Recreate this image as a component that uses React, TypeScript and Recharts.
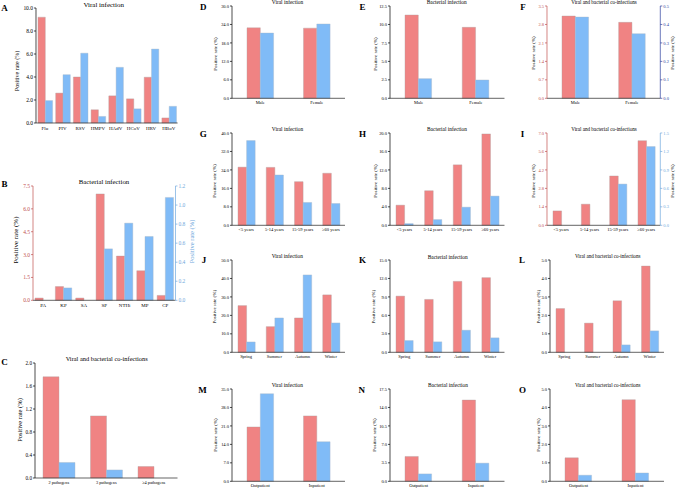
import React from 'react';
import { BarChart, Bar, XAxis, YAxis } from 'recharts';

const FONT = '"Liberation Serif", "Times New Roman", serif';
const RED = '#F08383';
const BLUE = '#80BBF7';
const AXIS_RED = '#C0504D';
const AXIS_LIGHTBLUE = '#6FA8DC';
const AXIS_DARKBLUE = '#2B3F9E';

// A - viral pathogens
const viruses = ['Flu', 'PIV', 'RSV', 'HMPV', 'HAdV', 'HCoV', 'HRV', 'HBoV'];
const virusRed = [9.2, 2.6, 4.0, 1.15, 2.36, 2.1, 3.98, 0.44];
const virusBlue = [1.95, 4.2, 6.07, 0.57, 4.84, 1.23, 6.43, 1.45];
const virusTicks = [0, 2, 4, 6, 8, 10];

// B - bacterial pathogens (blue on right axis)
const bacteria = ['PA', 'KP', 'SA', 'SP', 'NTHi', 'MP', 'CP'];
const bacteriaRed = [0.15, 0.9, 0.15, 6.98, 2.9, 1.94, 0.32];
const bacteriaBlue = [0, 0.13, 0, 0.54, 0.81, 0.67, 1.08];
const bacteriaTicks = [0, 1.5, 3, 4.5, 6, 7.5];
const bacteriaRightTicks = [0, 0.2, 0.4, 0.6, 0.8, 1.0, 1.2];

// C - co-infections
const coTypes = ['2 pathogens', '3 pathogens', '\u22654 pathogens'];
const coTypeRed = [1.76, 1.08, 0.2];
const coTypeBlue = [0.27, 0.14, 0];
const coTypeTicks = [0, 0.4, 0.8, 1.2, 1.6, 2.0];

const sexes = ['Male', 'Female'];
const ages = ['<5 years', '5-14 years', '15-59 years', '\u226560 years'];
const seasons = ['Spring', 'Summer', 'Autumn', 'Winter'];
const settings = ['Outpatient', 'Inpatient'];

// D E F - by sex
const viralSexRed = [22.9, 22.8];
const viralSexBlue = [21.2, 24.15];
const viralSexTicks = [0, 6, 12, 18, 24, 30];
const bactSexRed = [11.28, 9.61];
const bactSexBlue = [2.66, 2.48];
const bactSexTicks = [0, 2.5, 5, 7.5, 10, 12.5];
const coSexRed = [3.12, 2.88];
const coSexBlue = [0.44, 0.35];
const coSexTicks = [0, 0.7, 1.4, 2.1, 2.8, 3.5];
const coSexRightTicks = [0, 0.1, 0.2, 0.3, 0.4, 0.5];

// G H I - by age
const viralAgeRed = [25.2, 25.1, 18.9, 22.55];
const viralAgeBlue = [36.7, 21.8, 9.9, 9.45];
const viralAgeTicks = [0, 8, 16, 24, 32, 40];
const bactAgeRed = [4.36, 7.49, 13.1, 19.8];
const bactAgeBlue = [0.36, 1.24, 3.93, 6.33];
const bactAgeTicks = [0, 4, 8, 12, 16, 20];
const coAgeRed = [1.09, 1.6, 3.74, 6.42];
const coAgeBlue = [0, 0, 0.67, 1.28];
const coAgeTicks = [0, 1.4, 2.8, 4.2, 5.6, 7.0];
const coAgeRightTicks = [0, 0.3, 0.6, 0.9, 1.2, 1.5];

// J K L - by season
const viralSeasonRed = [25.3, 13.9, 18.6, 31.1];
const viralSeasonBlue = [5.6, 18.6, 41.9, 15.9];
const viralSeasonTicks = [0, 10, 20, 30, 40, 50];
const bactSeasonRed = [9.13, 8.59, 11.53, 12.13];
const bactSeasonBlue = [1.91, 1.7, 3.59, 2.35];
const bactSeasonTicks = [0, 3, 6, 9, 12, 15];
const coSeasonRed = [2.37, 1.58, 2.79, 4.67];
const coSeasonBlue = [0, 0, 0.4, 1.16];
const coSeasonTicks = [0, 1, 2, 3, 4, 5];

// M N O - by setting
const viralSettingRed = [20.6, 24.8];
const viralSettingBlue = [33.2, 15.0];
const viralSettingTicks = [0, 7, 14, 21, 28, 35];
const bactSettingRed = [4.71, 15.4];
const bactSettingBlue = [1.4, 3.44];
const bactSettingTicks = [0, 3.5, 7, 10.5, 14, 17.5];
const coSettingRed = [1.27, 4.42];
const coSettingBlue = [0.33, 0.45];
const coSettingTicks = [0, 1, 2, 3, 4, 5];

type Rect = { x: number; y: number; w: number; h: number };

interface PanelProps {
  categories: string[];
  red: number[];
  blue: number[];
  rect: Rect;
  ticks: number[];
  rightTicks?: number[];
  leftColor?: string;
  rightColor?: string;
  barSize: number;
  tickFont: number;
  catFont: number;
}

function Panel({ categories, red, blue, rect, ticks, rightTicks, leftColor = '#000', rightColor = '#000', barSize, tickFont, catFont }: PanelProps) {
  const data = categories.map((name, i) => ({ name, red: red[i], blue: blue[i] }));
  const hasRight = !!rightTicks;
  const fmt = (v: number) => v.toFixed(1);
  return (
    <div style={{ position: 'absolute', left: rect.x - 40, top: rect.y - 20 }}>
      <BarChart
        width={rect.w + 80}
        height={rect.h + 40}
        data={data}
        barGap={0}
        margin={{ top: 20, right: hasRight ? 10 : 40, bottom: 0, left: 10 }}
      >
        <XAxis
          dataKey="name"
          height={20}
          interval={0}
          tickLine={false}
          tickSize={2}
          tickMargin={1}
          axisLine={{ stroke: '#222', strokeWidth: 0.7 }}
          tick={{ fontSize: catFont, fill: '#000', fontFamily: FONT }}
        />
        <YAxis
          yAxisId="left"
          width={30}
          domain={[ticks[0], ticks[ticks.length - 1]]}
          ticks={ticks}
          interval={0}
          tickFormatter={fmt}
          tickSize={2}
          tickMargin={1}
          axisLine={{ stroke: leftColor, strokeWidth: 0.7 }}
          tickLine={{ stroke: leftColor, strokeWidth: 0.7 }}
          tick={{ fontSize: tickFont, fill: leftColor, fontFamily: FONT }}
        />
        {hasRight && (
          <YAxis
            yAxisId="right"
            orientation="right"
            width={30}
            domain={[rightTicks![0], rightTicks![rightTicks!.length - 1]]}
            ticks={rightTicks}
            interval={0}
            tickFormatter={fmt}
            tickSize={2}
            tickMargin={1}
            axisLine={{ stroke: rightColor, strokeWidth: 0.7 }}
            tickLine={{ stroke: rightColor, strokeWidth: 0.7 }}
            tick={{ fontSize: tickFont, fill: rightColor, fontFamily: FONT }}
          />
        )}
        <Bar yAxisId="left" dataKey="red" fill={RED} stroke="#B0A0A0" strokeWidth={0.4} barSize={barSize} isAnimationActive={false} />
        <Bar yAxisId={hasRight ? 'right' : 'left'} dataKey="blue" fill={BLUE} stroke="#A8B8C8" strokeWidth={0.4} barSize={barSize} isAnimationActive={false} />
      </BarChart>
    </div>
  );
}

const ROWS = [6, 133.3, 260, 389.3];
const H = 92.3;
const COL2 = { x: 231.5, w: 113 };
const COL3 = { x: 390, w: 114.5 };
const COL4 = { x: 546.7, w: 113.3 };
const COL4B = { x: 550, w: 114 };

const small = { tickFont: 4.5, catFont: 4.5 };

const letters: [string, number, number][] = [
  ['A', 4.5, 7.5], ['B', 4.5, 184], ['C', 4.5, 361.5],
  ['D', 203.3, 6.5], ['E', 362.5, 6.5], ['F', 523, 6.5],
  ['G', 203.3, 134], ['H', 362.5, 134], ['I', 522.5, 134],
  ['J', 204, 260], ['K', 362.5, 260], ['L', 522, 260],
  ['M', 202.5, 389.5], ['N', 361.7, 389.5], ['O', 522.5, 389.5],
];

const titles: [string, number, number, number][] = [
  ['Viral infection', 103.7, 4.5, 7],
  ['Bacterial infection', 104, 181, 6.8],
  ['Viral and bacterial co-infections', 106.7, 358.5, 6.4],
  ['Viral infection', 287.5, 1.8, 5.4],
  ['Bacterial infection', 446.7, 1.8, 5.4],
  ['Viral and bacterial co-infections', 604, 1.8, 5.1],
  ['Viral infection', 287.5, 129, 5.4],
  ['Bacterial infection', 447, 129, 5.4],
  ['Viral and bacterial co-infections', 604, 128.5, 5.1],
  ['Viral infection', 287.3, 256.3, 5.4],
  ['Bacterial infection', 447.7, 257, 5.4],
  ['Viral and bacterial co-infections', 607.7, 256.3, 5.1],
  ['Viral infection', 287.3, 385, 5.4],
  ['Bacterial infection', 448, 385, 5.4],
  ['Viral and bacterial co-infections', 607.7, 385, 5.1],
];

const yLabels: [number, number, number, string][] = [
  [17.3, 71, 6, '#000'], [16.3, 240, 7, '#000'], [191, 241.5, 6.5, AXIS_LIGHTBLUE], [19.3, 420, 6.5, '#000'],
  [215, 54, 5, '#000'], [375, 54, 5, '#000'], [533.3, 53, 5, '#000'], [672.5, 53, 5, '#000'],
  [214.7, 181, 5, '#000'], [375, 181, 5, '#000'], [533, 181, 5, '#000'], [672.5, 181, 5, '#000'],
  [215, 306.7, 5, '#000'], [374, 306.7, 5, '#000'], [538.3, 306.7, 5, '#000'],
  [215, 435, 5, '#000'], [374, 435, 5, '#000'], [538.3, 435, 5, '#000'],
];

export default function App() {
  return (
    <div style={{ position: 'absolute', left: 0, top: 0, width: 676, height: 489, background: '#fff', overflow: 'hidden' }}>
      <Panel categories={viruses} red={virusRed} blue={virusBlue} rect={{ x: 35.5, y: 8.3, w: 141.6, h: 115 }} ticks={virusTicks} barSize={7.3} tickFont={5.5} catFont={5} />
      <Panel categories={bacteria} red={bacteriaRed} blue={bacteriaBlue} rect={{ x: 32.8, y: 186, w: 142.5, h: 114.3 }} ticks={bacteriaTicks} rightTicks={bacteriaRightTicks} leftColor={AXIS_RED} rightColor={AXIS_LIGHTBLUE} barSize={8.2} tickFont={5.5} catFont={5} />
      <Panel categories={coTypes} red={coTypeRed} blue={coTypeBlue} rect={{ x: 35, y: 363.3, w: 142.5, h: 115 }} ticks={coTypeTicks} barSize={16} tickFont={5.2} catFont={4.3} />

      <Panel categories={sexes} red={viralSexRed} blue={viralSexBlue} rect={{ ...COL2, y: ROWS[0], h: H }} ticks={viralSexTicks} barSize={13.3} {...small} />
      <Panel categories={sexes} red={bactSexRed} blue={bactSexBlue} rect={{ ...COL3, y: ROWS[0], h: H }} ticks={bactSexTicks} barSize={13.3} {...small} />
      <Panel categories={sexes} red={coSexRed} blue={coSexBlue} rect={{ ...COL4, y: ROWS[0], h: H }} ticks={coSexTicks} rightTicks={coSexRightTicks} leftColor={AXIS_RED} rightColor={AXIS_DARKBLUE} barSize={13.3} {...small} />

      <Panel categories={ages} red={viralAgeRed} blue={viralAgeBlue} rect={{ ...COL2, y: ROWS[1], h: H }} ticks={viralAgeTicks} barSize={8.6} {...small} />
      <Panel categories={ages} red={bactAgeRed} blue={bactAgeBlue} rect={{ ...COL3, y: ROWS[1], h: H }} ticks={bactAgeTicks} barSize={8.6} {...small} />
      <Panel categories={ages} red={coAgeRed} blue={coAgeBlue} rect={{ ...COL4, y: ROWS[1], h: H }} ticks={coAgeTicks} rightTicks={coAgeRightTicks} leftColor={AXIS_RED} rightColor={AXIS_LIGHTBLUE} barSize={8.6} {...small} />

      <Panel categories={seasons} red={viralSeasonRed} blue={viralSeasonBlue} rect={{ ...COL2, y: ROWS[2], h: H }} ticks={viralSeasonTicks} barSize={8.6} {...small} />
      <Panel categories={seasons} red={bactSeasonRed} blue={bactSeasonBlue} rect={{ ...COL3, y: ROWS[2], h: H }} ticks={bactSeasonTicks} barSize={8.6} {...small} />
      <Panel categories={seasons} red={coSeasonRed} blue={coSeasonBlue} rect={{ ...COL4B, y: ROWS[2], h: H }} ticks={coSeasonTicks} barSize={8.6} {...small} />

      <Panel categories={settings} red={viralSettingRed} blue={viralSettingBlue} rect={{ ...COL2, y: ROWS[3], h: H }} ticks={viralSettingTicks} barSize={13.3} {...small} />
      <Panel categories={settings} red={bactSettingRed} blue={bactSettingBlue} rect={{ ...COL3, y: ROWS[3], h: H }} ticks={bactSettingTicks} barSize={13.3} {...small} />
      <Panel categories={settings} red={coSettingRed} blue={coSettingBlue} rect={{ ...COL4B, y: ROWS[3], h: H }} ticks={coSettingTicks} barSize={13.3} {...small} />

      <svg width={676} height={489} style={{ position: 'absolute', left: 0, top: 0, pointerEvents: 'none' }} fontFamily={FONT}>
        {letters.map(([t, x, y]) => (
          <text key={t} x={x} y={y} fontSize={9} fontWeight="bold" textAnchor="middle" dominantBaseline="central">{t}</text>
        ))}
        {titles.map(([t, x, y, s], i) => (
          <text key={i} x={x} y={y} fontSize={s} textAnchor="middle" dominantBaseline="central">{t}</text>
        ))}
        {yLabels.map(([x, y, s, c], i) => (
          <text key={i} x={x} y={y} fontSize={s} fill={c} textAnchor="middle" dominantBaseline="central" transform={`rotate(-90 ${x} ${y})`}>Positive rate (%)</text>
        ))}
      </svg>
    </div>
  );
}
